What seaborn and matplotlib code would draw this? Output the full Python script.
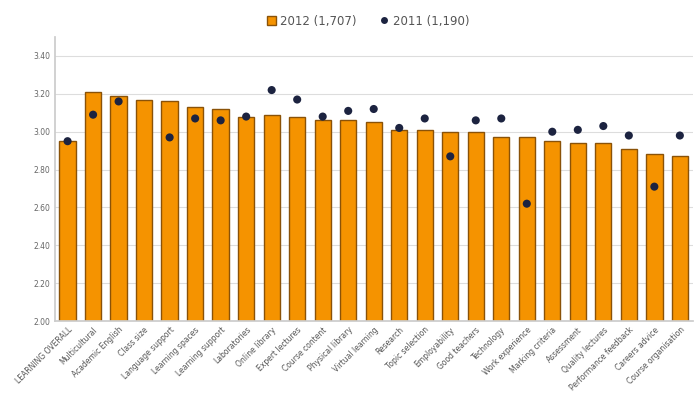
import numpy as np
import pandas as pd
import matplotlib
matplotlib.use("Agg")
import matplotlib.pyplot as plt
from matplotlib.lines import Line2D
from matplotlib.patches import Patch
import seaborn as sns

categories = ["LEARNING OVERALL", "Multicultural", "Academic English", "Class size",
              "Language support", "Learning spaces", "Learning support", "Laboratories",
              "Online library", "Expert lectures", "Course content", "Physical library",
              "Virtual learning", "Research", "Topic selection", "Employability",
              "Good teachers", "Technology", "Work experience", "Marking criteria",
              "Assessment", "Quality lectures", "Performance feedback", "Careers advice",
              "Course organisation"]
values_2012 = [2.95, 3.21, 3.19, 3.17, 3.16, 3.13, 3.12, 3.08, 3.09, 3.08, 3.06, 3.06,
               3.05, 3.01, 3.01, 3.00, 3.00, 2.97, 2.97, 2.95, 2.94, 2.94, 2.91, 2.88, 2.87]
values_2011 = [2.95, 3.09, 3.16, np.nan, 2.97, 3.07, 3.06, 3.08, 3.22, 3.17, 3.08, 3.11,
               3.12, 3.02, 3.07, 2.87, 3.06, 3.07, 2.62, 3.00, 3.01, 3.03, 2.98, 2.71, 2.98]
yticks = [2.00, 2.20, 2.40, 2.60, 2.80, 3.00, 3.20, 3.40]
label_2012 = "2012 (1,707)"
label_2011 = "2011 (1,190)"

df = pd.DataFrame({"cat": categories, "v2012": values_2012, "v2011": values_2011})

sns.set_theme(style="white")
plt.rcParams['font.family'] = ['DejaVu Sans']

fig = plt.figure(figsize=(6.94, 3.94), dpi=100)
ax = fig.add_axes([0.079, 0.185, 0.919, 0.721])

bar_color = "#F59300"
edge_color = "#8a5208"
sns.barplot(data=df, x="cat", y="v2012", color=bar_color, width=0.64,
            edgecolor=edge_color, linewidth=1.0, saturation=1, ax=ax)
sns.scatterplot(data=df, x="cat", y="v2011", color="#1c2340", s=34,
                edgecolor="none", zorder=5, ax=ax)

ax.set_ylim(2.0, 3.5)
ax.set_xlim(-0.5, len(categories) - 0.5)
ax.set_yticks(yticks)
ax.set_yticklabels([f"{t:.2f}" for t in yticks], fontsize=5.5, color="#666666")
ax.yaxis.grid(True, color="#dddddd", linewidth=0.8)
ax.set_axisbelow(True)
ax.set_xlabel("")
ax.set_ylabel("")
ax.set_xticks(range(len(categories)))
ax.set_xticklabels(categories, rotation=45, ha="right", rotation_mode="anchor",
                   fontsize=5.5, color="#555555")
ax.tick_params(axis="both", length=0, pad=3)
for side in ["top", "right"]:
    ax.spines[side].set_visible(False)
ax.spines["left"].set_color("#cccccc")
ax.spines["bottom"].set_color("#cccccc")

handles = [Patch(facecolor=bar_color, edgecolor=edge_color, label=label_2012),
           Line2D([0], [0], marker="o", color="none", markerfacecolor="#1c2340",
                  markeredgecolor="none", markersize=5, label=label_2011)]
fig.legend(handles=handles, loc="upper center", bbox_to_anchor=(0.53, 0.99), ncol=2,
           frameon=False, fontsize=8.5, handlelength=0.8, handleheight=0.8,
           handletextpad=0.3, columnspacing=2.0, labelcolor="#555555")

fig.savefig("out.png", dpi=100)
